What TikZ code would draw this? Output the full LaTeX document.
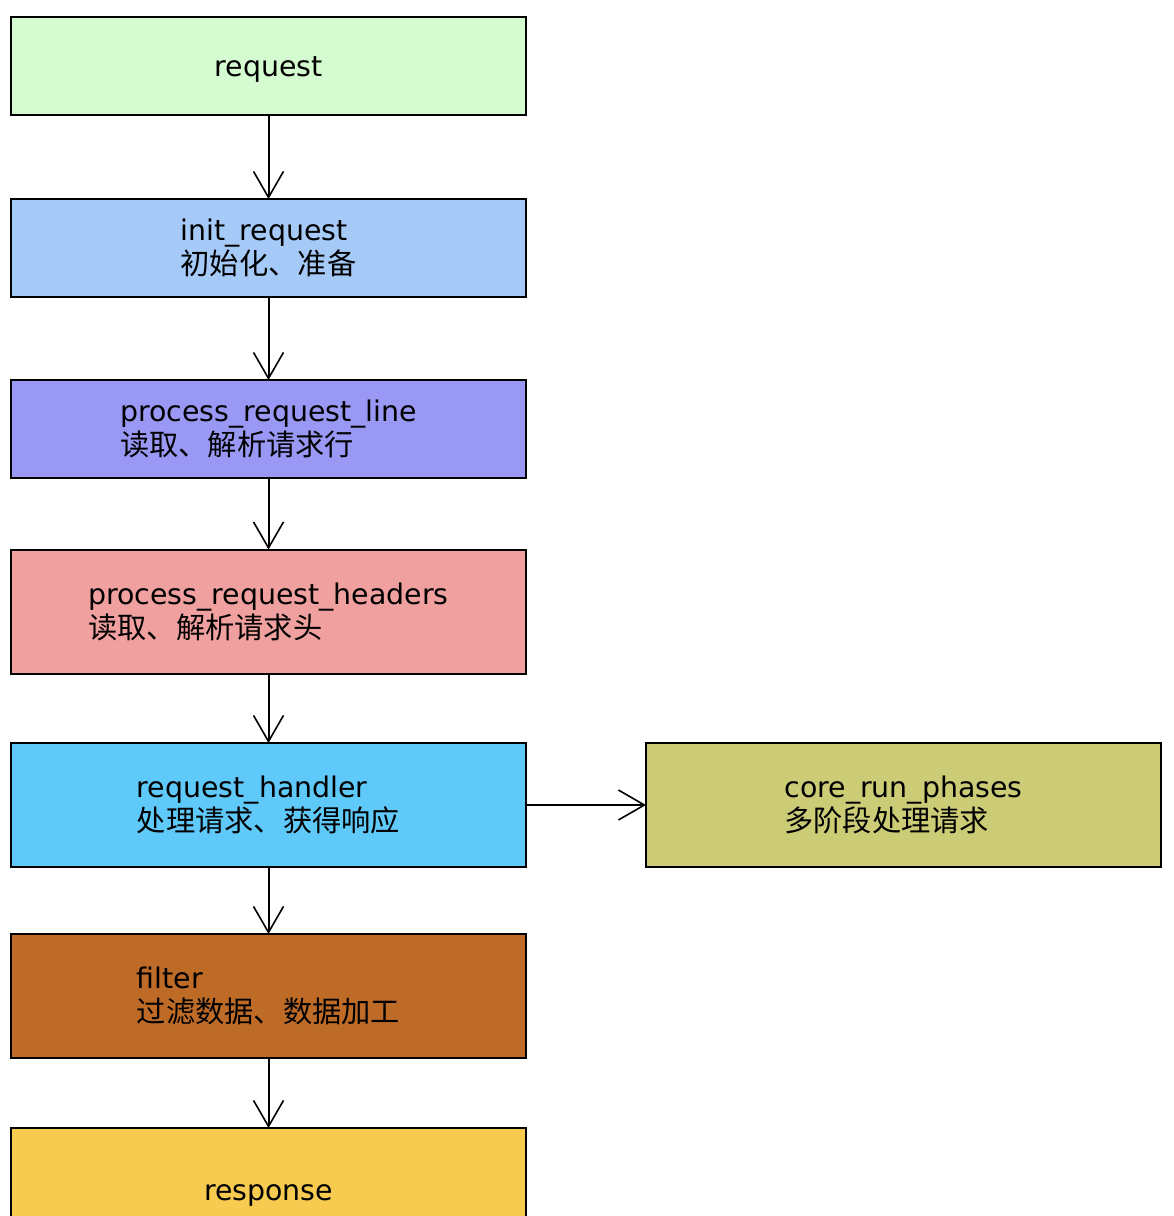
\documentclass[tikz,border=0pt]{standalone}
\usepackage{fontspec}
\setmainfont{DejaVu Sans}
\newfontfamily\cjk[Scale=1.03]{Noto Sans CJK SC}
\usetikzlibrary{arrows.meta}
\definecolor{cReq}{HTML}{D5FCD0}
\definecolor{cInit}{HTML}{A6CAF8}
\definecolor{cLine}{HTML}{9999F5}
\definecolor{cHead}{HTML}{F0A09F}
\definecolor{cHand}{HTML}{5FC9FA}
\definecolor{cCore}{HTML}{CCCC77}
\definecolor{cFilt}{HTML}{BF6B28}
\definecolor{cResp}{HTML}{F7CB4F}
\tikzset{
  box/.style={draw=black, line width=2pt, minimum width=515pt, inner sep=0pt, outer sep=0pt,
    align=left, font=\fontsize{28.4}{34}\selectfont},
  shortbox/.style={box, minimum height=98pt},
  tallbox/.style={box, minimum height=124pt},
  flow/.style={draw=black, line width=2pt, -{Straight Barb[length=26pt,width=30pt,line width=1.6pt]}}
}
\begin{document}
\begin{tikzpicture}[x=1pt,y=-1pt]
\useasboundingbox (0,0) rectangle (1174,1216);
\fill[white] (0,0) rectangle (1174,1216);
\node[shortbox, fill=cReq, text height=27pt, text depth=7pt] (req) at (268.5,66) {request};
\node[shortbox, fill=cInit] (init) at (268.5,248) {init\_request\\{\cjk 初始化、准备}};
\node[shortbox, fill=cLine] (line) at (268.5,429) {process\_request\_line\\{\cjk 读取、解析请求行}};
\node[tallbox, fill=cHead] (head) at (268.5,611.5) {process\_request\_headers\\{\cjk 读取、解析请求头}};
\node[tallbox, fill=cHand] (hand) at (268.5,805) {request\_handler\\{\cjk 处理请求、获得响应}};
\node[tallbox, fill=cCore] (core) at (903.5,805) {core\_run\_phases\\{\cjk 多阶段处理请求}};
\node[tallbox, fill=cFilt] (filt) at (268.5,996) {filter\\{\cjk 过滤数据、数据加工}};
\node[tallbox, fill=cResp, text height=27pt, text depth=7pt] (resp) at (268.5,1190) {response};
\draw[flow] (req) -- (init);
\draw[flow] (init) -- (line);
\draw[flow] (line) -- (head);
\draw[flow] (head) -- (hand);
\draw[flow] (hand) -- (filt);
\draw[flow] (filt) -- (resp);
\draw[flow] (hand) -- (core);
\end{tikzpicture}
\end{document}
